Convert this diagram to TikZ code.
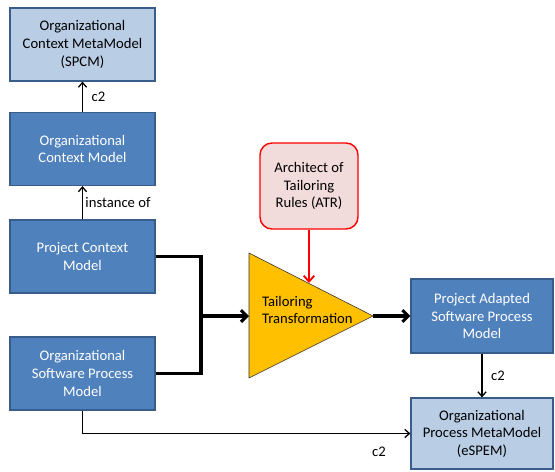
\documentclass[tikz,border=0pt]{standalone}
\usepackage{fontspec}
\setmainfont{Carlito}
\usetikzlibrary{arrows.meta}

\definecolor{modelblue}{HTML}{4F81BD}
\definecolor{modeledge}{HTML}{385D8A}
\definecolor{metablue}{HTML}{B9CDE5}
\definecolor{atrpink}{HTML}{F2DCDB}
\definecolor{tailorgold}{HTML}{FFC000}

\begin{document}
\begin{tikzpicture}[x=0.03cm, y=-0.03cm, font=\fontsize{12.5}{15}\selectfont,
    modelbox/.style={draw=modeledge, line width=1pt, fill=modelblue, text=white, align=center, minimum width=4.35cm, minimum height=2.19cm},
    metabox/.style={draw=modeledge, line width=1pt, fill=metablue, align=center, minimum width=4.3cm, minimum height=2.15cm},
    thinarrow/.style={-{Straight Barb[length=4pt,width=7pt]}, line width=1.1pt},
    thickline/.style={line width=2.6pt},
    thickarrow/.style={thickline, -{Straight Barb[length=5pt,width=10pt]}}]
  \useasboundingbox (0,0) rectangle (555,471);
  % left column
  \node[metabox, minimum width=4.35cm, minimum height=2.19cm] (spcm) at (82.5,44.5) {Organizational\\Context MetaModel\\(SPCM)};
  \node[modelbox] (ocm) at (82.5,149) {Organizational\\Context Model};
  \node[modelbox] (pcm) at (82.5,256.5) {Project Context\\Model};
  \node[modelbox] (ospm) at (82.5,373.5) {Organizational\\Software Process\\Model};
  \draw[thinarrow] (ocm) -- (spcm) node[midway, right, xshift=4pt] {c2};
  \draw[thinarrow] (pcm) -- (ocm) node[midway, right, inner sep=2pt] {instance of};
  % tailoring
  \node[draw=red, line width=1.2pt, fill=atrpink, rounded corners=0.36cm, align=center, minimum width=2.94cm, minimum height=2.58cm] (atr) at (309,186) {Architect of\\Tailoring\\Rules (ATR)};
  \draw[draw=black!80, fill=tailorgold, line width=0.5pt] (249,253) -- (373,316) -- (249,378) -- cycle;
  \coordinate (tribase) at (249,316);
  \coordinate (tritip) at (373,316);
  \coordinate (trihit) at (309,283);
  \node[anchor=west, align=left] (tailor) at (258,310) {Tailoring\\Transformation};
  \coordinate (join) at (201,316);
  \draw[thickline] (pcm.east) -| (join);
  \draw[thickline] (ospm.east) -| (join);
  \draw[thickarrow] (join) -- (tribase);
  \draw[red, line width=1.6pt, -{Straight Barb[length=5pt,width=9pt]}] (atr) -- (trihit);
  % right column
  \node[modelbox, minimum width=4.26cm, minimum height=2.22cm] (paspm) at (482,316) {Project Adapted\\Software Process\\Model};
  \node[metabox, minimum width=4.26cm, minimum height=2.13cm] (opmm) at (482,433.5) {Organizational\\Process MetaModel\\(eSPEM)};
  \draw[thickarrow] (tritip) -- (paspm);
  \draw[thinarrow] (paspm) -- (opmm) node[midway, right, xshift=4pt] {c2};
  \draw[thinarrow] (ospm.south) |- (opmm.west);
  \node (c2low) at (379,452) {c2};
\end{tikzpicture}
\end{document}
